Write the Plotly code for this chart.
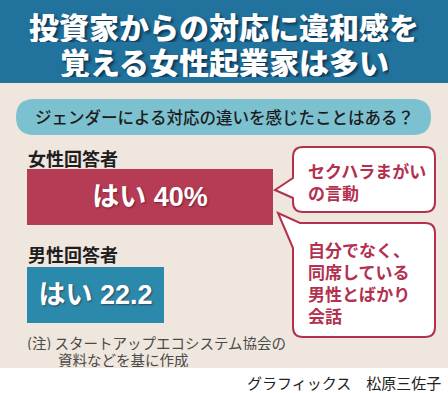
import plotly.graph_objects as go

W, H = 448, 393

# ---- data ----
groups = ["男性回答者", "女性回答者"]
yes_values = [22.2, 40]
bar_labels = ["はい 22.2", "はい 40%"]
bar_colors = ["#2b8aab", "#b63c55"]
title_lines = ["投資家からの対応に違和感を", "覚える女性起業家は多い"]
question = "ジェンダーによる対応の違いを感じたことはある？"
callout1 = ["セクハラまがい", "の言動"]
callout2 = ["自分でなく、", "同席している", "男性とばかり", "会話"]
note_lines = ["(注) スタートアップエコシステム協会の", "資料などを基に作成"]
credit = "グラフィックス　松原三佐子"

JP = "Noto Sans CJK JP"
CRIMSON = "#b3304f"


def fx(x):
    return x / W


def fy(y):
    return 1 - y / H


def P(x, y):
    return f"{fx(x):.5f},{fy(y):.5f}"


def rrect(x0, y0, x1, y1, r):
    return (f"M{P(x0 + r, y0)} L{P(x1 - r, y0)} Q{P(x1, y0)} {P(x1, y0 + r)} "
            f"L{P(x1, y1 - r)} Q{P(x1, y1)} {P(x1 - r, y1)} L{P(x0 + r, y1)} "
            f"Q{P(x0, y1)} {P(x0, y1 - r)} L{P(x0, y0 + r)} Q{P(x0, y0)} {P(x0 + r, y0)} Z")


fig = go.Figure()
fig.add_trace(go.Bar(
    y=groups, x=yes_values, orientation="h",
    marker=dict(color=bar_colors, line=dict(width=0)),
    width=0.58,
    text=bar_labels, textposition="inside", insidetextanchor="middle",
    textangle=0, constraintext="none",
    insidetextfont=dict(family="Liberation Sans, " + JP, size=27, color="white",
                        weight="bold", shadow="1px 1px 2px rgba(60,0,20,0.5)"),
    hoverinfo="skip",
))

shapes = []
# background bands
shapes.append(dict(type="rect", xref="paper", yref="paper", x0=0, x1=1, y0=fy(368), y1=fy(83),
                   fillcolor="#efe6dd", line=dict(width=0), layer="below"))
shapes.append(dict(type="rect", xref="paper", yref="paper", x0=0, x1=1, y0=fy(83), y1=1,
                   fillcolor="#21729c", line=dict(width=0), layer="below"))
# question pill
shapes.append(dict(type="path", xref="paper", yref="paper", path=rrect(16, 99, 431, 135, 18),
                   fillcolor="#7cc1d0", line=dict(width=0), layer="below"))

# callout 1 with tail
r = 10
x0, y0, x1, y1 = 293, 147, 435, 212
path1 = (f"M{P(x0 + r, y0)} L{P(x1 - r, y0)} Q{P(x1, y0)} {P(x1, y0 + r)} "
         f"L{P(x1, y1 - r)} Q{P(x1, y1)} {P(x1 - r, y1)} L{P(x0 + r, y1)} "
         f"Q{P(x0, y1)} {P(x0, y1 - r)} L{P(x0, 198)} L{P(275, 190)} L{P(x0, 178)} "
         f"L{P(x0, y0 + r)} Q{P(x0, y0)} {P(x0 + r, y0)} Z")
shapes.append(dict(type="path", xref="paper", yref="paper", path=path1,
                   fillcolor="white", line=dict(color=CRIMSON, width=2)))
# callout 2 with tail
x0, y0, x1, y1 = 293, 223, 435, 337
path2 = (f"M{P(300, y0)} L{P(x1 - r, y0)} Q{P(x1, y0)} {P(x1, y0 + r)} "
         f"L{P(x1, y1 - r)} Q{P(x1, y1)} {P(x1 - r, y1)} L{P(x0 + r, y1)} "
         f"Q{P(x0, y1)} {P(x0, y1 - r)} L{P(x0, 248)} L{P(278, 213)} Z")
shapes.append(dict(type="path", xref="paper", yref="paper", path=path2,
                   fillcolor="white", line=dict(color=CRIMSON, width=2)))

ann = []
title_shadow = "2px 2px 3px rgba(5,40,70,0.85)"
ann.append(dict(x=0.5, y=fy(26), text=title_lines[0], height=32,
                font=dict(family=JP, size=30, color="white", weight=900, shadow=title_shadow)))
ann.append(dict(x=0.5, y=fy(61), text=title_lines[1], height=32,
                font=dict(family=JP, size=30, color="white", weight=900, shadow=title_shadow)))
ann.append(dict(x=fx(224), y=fy(117), text=question,
                font=dict(family=JP, size=16.5, color="#1c1c1c", weight=500)))
ann.append(dict(x=fx(26), y=fy(158), text=groups[1], xanchor="left",
                font=dict(family=JP, size=18, color="#1e1e1e", weight="bold")))
ann.append(dict(x=fx(26), y=fy(254), text=groups[0], xanchor="left",
                font=dict(family=JP, size=18, color="#1e1e1e", weight="bold")))
ann.append(dict(x=fx(306), y=fy(181), text="<br>".join(callout1), xanchor="left", align="left",
                font=dict(family=JP, size=17, color=CRIMSON, weight="bold")))
ann.append(dict(x=fx(306), y=fy(282), text="<br>".join(callout2), xanchor="left", align="left",
                font=dict(family=JP, size=17, color=CRIMSON, weight="bold")))
ann.append(dict(x=fx(25), y=fy(342), text=note_lines[0], xanchor="left", height=16,
                font=dict(family=JP, size=14.5, color="#4a4a4a")))
ann.append(dict(x=fx(56), y=fy(359), text=note_lines[1], xanchor="left", height=16,
                font=dict(family=JP, size=14.5, color="#4a4a4a")))
ann.append(dict(x=fx(443), y=fy(382), text=credit, xanchor="right",
                font=dict(family=JP, size=15, color="#222222")))
for a in ann:
    a.update(xref="paper", yref="paper", showarrow=False)
    a.setdefault("xanchor", "center")
    a.setdefault("yanchor", "middle")

fig.update_layout(
    width=W, height=H, margin=dict(l=0, r=0, t=0, b=0),
    paper_bgcolor="white", plot_bgcolor="rgba(0,0,0,0)",
    showlegend=False, shapes=shapes, annotations=ann,
    xaxis=dict(domain=[fx(27), fx(273)], range=[0, 40], visible=False, fixedrange=True),
    yaxis=dict(domain=[fy(343.5), fy(147.5)], range=[-0.5, 1.5], visible=False,
               type="category", categoryorder="array", categoryarray=groups, fixedrange=True),
    bargap=0,
)

fig.write_html("out.html", config={"displayModeBar": False})
